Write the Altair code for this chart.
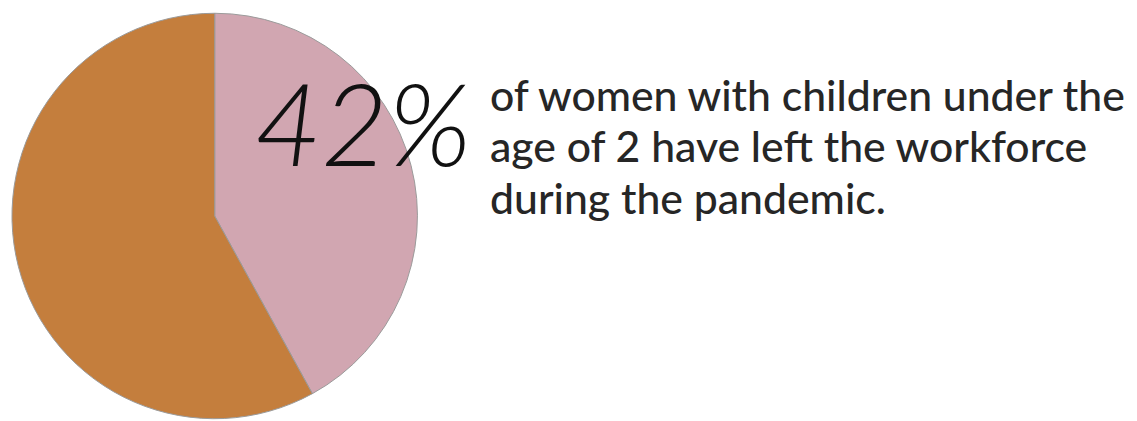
import altair as alt
import pandas as pd

labels = ["Left the workforce", "Other"]
values = [42, 58]
colors = ["#D1A6B1", "#C47E3D"]
order = [1, 2]

big_label = ["42%"]
lines = ["of women with children under the",
         "age of 2 have left the workforce",
         "during the pandemic."]

df = pd.DataFrame({"label": labels, "value": values, "order": order})

pie = alt.Chart(df).mark_arc(outerRadius=204, stroke="#9a9a9a", strokeWidth=1).encode(
    theta=alt.Theta("value:Q", stack=True),
    order=alt.Order("order:Q"),
    color=alt.Color("label:N", scale=alt.Scale(domain=labels, range=colors), legend=None),
    x=alt.value(208),
    y=alt.value(208),
)

big = alt.Chart(pd.DataFrame({"t": big_label})).mark_text(
    font="Lato", fontSize=116, fontWeight=300, fontStyle="italic",
    align="left", baseline="alphabetic", color="#111111",
).encode(text="t:N", x=alt.value(248), y=alt.value(158))

txt_df = pd.DataFrame({"t": lines, "i": [0, 1, 2]})
txt = alt.Chart(txt_df).mark_text(
    font="Lato", fontSize=43, fontWeight=500, align="left", baseline="alphabetic", color="#262626"
).encode(
    text="t:N",
    x=alt.value(485),
    y=alt.Y("i:Q", axis=None, scale=alt.Scale(domain=[0, 2], range=[102, 206])),
)

chart = alt.layer(pie, big, txt).properties(
    width=1121, height=405, padding=0
).configure_view(stroke=None)

chart.save("out.html", embed_options={"renderer": "svg", "actions": False})
